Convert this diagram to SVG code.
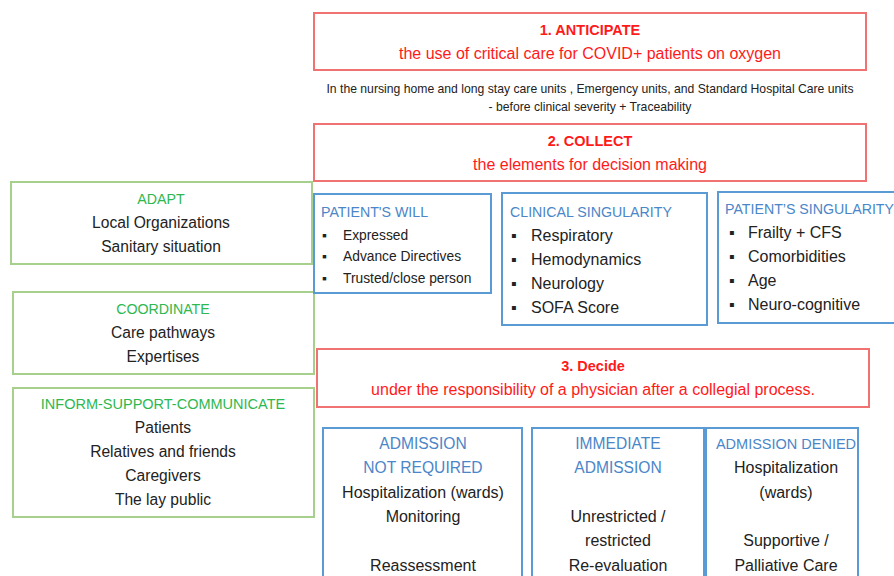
<svg xmlns="http://www.w3.org/2000/svg" width="894" height="576" viewBox="0 0 894 576">
<style>
text{font-family:"Liberation Sans",Arial,sans-serif;fill:#222;}
.red{fill:#ff1a1a;}
.b{font-weight:bold;}
.grn{fill:#2eb84f;}
.blu{fill:#4a86c8;}
.rbox{fill:#fff;stroke:#f07272;stroke-width:2;}
.gbox{fill:#fff;stroke:#a8d08d;stroke-width:2;}
.bbox{fill:#fff;stroke:#5b9bd5;stroke-width:2;}
.c{text-anchor:middle;}
.h{font-size:14.5px;}
.t14{font-size:14.2px;}
.t15{font-size:15.6px;}
.t16{font-size:16px;}
.t12{font-size:12.2px;}
.t13{font-size:13.8px;}
</style>
<rect width="894" height="576" fill="#fff"/>
<g id="anticipate">
<rect class="rbox" x="314" y="13" width="552" height="57"/>
<text class="red b c h" x="590" y="35">1. ANTICIPATE</text>
<text class="red c t16" x="590" y="59">the use of critical care for COVID+ patients on oxygen</text>
</g>
<g id="context">
<text class="c t12" x="590" y="93">In the nursing home and long stay care units , Emergency units, and Standard Hospital Care units</text>
<text class="c t12" x="590" y="111">- before clinical severity + Traceability</text>
</g>
<g id="collect">
<rect class="rbox" x="314" y="124" width="552" height="57"/>
<text class="red b c h" x="590" y="146">2. COLLECT</text>
<text class="red c t16" x="590" y="170">the elements for decision making</text>
</g>
<g id="adapt">
<rect class="gbox" x="11" y="182" width="301" height="82"/>
<text class="grn c t14" x="161" y="204">ADAPT</text>
<text class="c t15" x="161" y="228">Local Organizations</text>
<text class="c t15" x="161" y="252">Sanitary situation</text>
</g>
<g id="coordinate">
<rect class="gbox" x="13" y="292" width="301" height="82"/>
<text class="grn c t14" x="163" y="314">COORDINATE</text>
<text class="c t15" x="163" y="338">Care pathways</text>
<text class="c t15" x="163" y="362">Expertises</text>
</g>
<g id="inform">
<rect class="gbox" x="13" y="388" width="301" height="129"/>
<text class="grn c h" x="163" y="409" font-size="14.7">INFORM-SUPPORT-COMMUNICATE</text>
<text class="c t15" x="163" y="433">Patients</text>
<text class="c t15" x="163" y="457">Relatives and friends</text>
<text class="c t15" x="163" y="481">Caregivers</text>
<text class="c t15" x="163" y="505">The lay  public</text>
</g>
<g id="patients-will">
<rect class="bbox" x="314" y="194" width="177" height="99"/>
<text class="blu t14" x="321" y="217">PATIENT'S WILL</text>
<text class="t13" x="322" y="240">▪</text><text class="t13" x="343" y="240">Expressed</text>
<text class="t13" x="322" y="261">▪</text><text class="t13" x="343" y="261">Advance Directives</text>
<text class="t13" x="322" y="283">▪</text><text class="t13" x="343" y="283">Trusted/close person</text>
</g>
<g id="clinical-singularity">
<rect class="bbox" x="502" y="193" width="205" height="132"/>
<text class="blu t14" x="510" y="217">CLINICAL SINGULARITY</text>
<text class="t16" x="511" y="241">▪</text><text class="t16" x="531" y="241">Respiratory</text>
<text class="t16" x="511" y="265">▪</text><text class="t16" x="531" y="265">Hemodynamics</text>
<text class="t16" x="511" y="289">▪</text><text class="t16" x="531" y="289">Neurology</text>
<text class="t16" x="511" y="313">▪</text><text class="t16" x="531" y="313">SOFA Score</text>
</g>
<g id="patients-singularity">
<rect class="bbox" x="718" y="192" width="180" height="131"/>
<text class="blu t14" x="725" y="214">PATIENT’S SINGULARITY</text>
<text class="t16" x="729" y="238">▪</text><text class="t16" x="748" y="238">Frailty + CFS</text>
<text class="t16" x="729" y="262">▪</text><text class="t16" x="748" y="262">Comorbidities</text>
<text class="t16" x="729" y="286">▪</text><text class="t16" x="748" y="286">Age</text>
<text class="t16" x="729" y="310">▪</text><text class="t16" x="748" y="310">Neuro-cognitive</text>
</g>
<g id="decide">
<rect class="rbox" x="317" y="349" width="552" height="58"/>
<text class="red b c h" x="593" y="371">3. Decide</text>
<text class="red c t16" x="593" y="395">under the responsibility of a physician after a collegial process.</text>
</g>
<g id="admission-not-required">
<rect class="bbox" x="323" y="428" width="199" height="160"/>
<text class="blu c t15" x="423" y="449">ADMISSION</text>
<text class="blu c t15" x="423" y="473">NOT REQUIRED</text>
<text class="c t16" x="423" y="498">Hospitalization (wards)</text>
<text class="c t16" x="423" y="522">Monitoring</text>
<text class="c t16" x="423" y="571">Reassessment</text>
</g>
<g id="immediate-admission">
<rect class="bbox" x="532" y="428" width="172" height="160"/>
<text class="blu c t15" x="618" y="449">IMMEDIATE</text>
<text class="blu c t15" x="618" y="473">ADMISSION</text>
<text class="c t16" x="618" y="522">Unrestricted /</text>
<text class="c t16" x="618" y="546">restricted</text>
<text class="c t16" x="618" y="571">Re-evaluation</text>
</g>
<g id="admission-denied">
<rect class="bbox" x="706" y="428" width="152" height="160"/>
<text class="blu c h" x="786" y="449">ADMISSION DENIED</text>
<text class="c t16" x="786" y="473">Hospitalization</text>
<text class="c t16" x="786" y="498">(wards)</text>
<text class="c t16" x="786" y="546">Supportive /</text>
<text class="c t16" x="786" y="571">Palliative Care</text>
</g>
<g id="connectors"></g>
</svg>
